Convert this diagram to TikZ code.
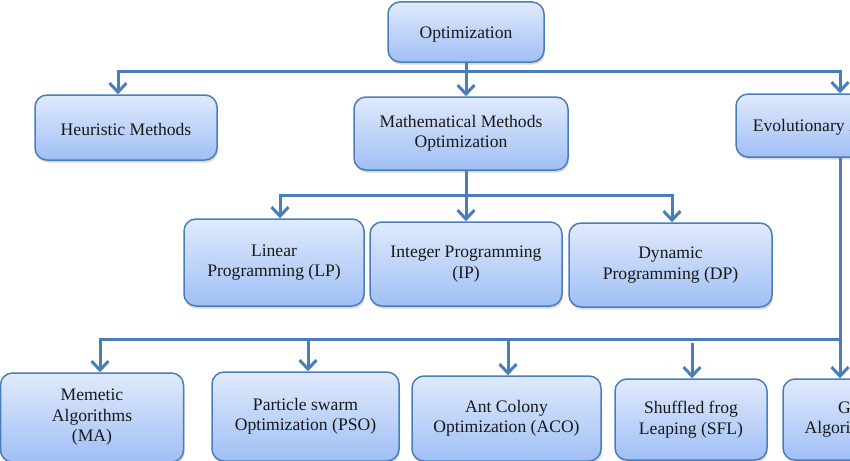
\documentclass[tikz,border=0pt]{standalone}
\usepackage{fontspec}
\setmainfont{Liberation Serif}
\usetikzlibrary{arrows.meta,shadows}
\definecolor{optcolor0000}{RGB}{74,126,187}
\definecolor{optcolor0001}{RGB}{224,234,252}
\definecolor{optcolor0002}{RGB}{160,191,245}
\definecolor{optcolor0003}{RGB}{25,25,25}

\begin{document}
\begin{tikzpicture}[yscale=-1
,bstyle/.style={draw=optcolor0000,line width=1.5pt,rounded corners=12pt,top color=optcolor0001,bottom color=optcolor0002,drop shadow={shadow xshift=1pt,shadow yshift=-2.5pt,opacity=0.3},align=center,inner sep=0pt,text=optcolor0003,font=\fontsize{17.6pt}{20.5pt}\selectfont,execute at begin node={\rule{0pt}{16.5pt}}}
,lstyle/.style={color=optcolor0000,line width=3pt}
,astyle/.style={lstyle,-{Straight Barb[length=9pt,width=17pt]}}
]
\useasboundingbox (0pt,0pt) rectangle (850pt,460pt);
\clip (0pt,0pt) rectangle (850pt,460pt);
\node[bstyle,minimum width=156pt,minimum height=60pt] (opt) at (466pt,32pt) {Optimization};
\node[bstyle,minimum width=182pt,minimum height=65pt] (heur) at (126pt,127.5pt) {Heuristic Methods};
\node[bstyle,minimum width=214pt,minimum height=73pt] (math) at (461pt,133.5pt) {Mathematical Methods\\Optimization};
\node[bstyle,minimum width=210pt,minimum height=63pt] (evo) at (841pt,125.5pt) {Evolutionary Algorithms};
\node[bstyle,minimum width=180pt,minimum height=87pt] (lp) at (274pt,262.5pt) {Linear\\Programming (LP)};
\node[bstyle,minimum width=192pt,minimum height=84pt] (ip) at (466pt,264pt) {Integer Programming\\(IP)};
\node[bstyle,minimum width=203pt,minimum height=84pt] (dp) at (670.5pt,265pt) {Dynamic\\Programming (DP)};
\node[bstyle,minimum width=183pt,minimum height=89pt] (ma) at (92pt,417.5pt) {Memetic\\Algorithms\\(MA)};
\node[bstyle,minimum width=187pt,minimum height=89pt] (pso) at (305.5pt,416.5pt) {Particle swarm\\Optimization (PSO)};
\node[bstyle,minimum width=189pt,minimum height=85pt] (aco) at (506.5pt,418.5pt) {Ant Colony\\Optimization (ACO)};
\node[bstyle,minimum width=152pt,minimum height=81pt] (sfl) at (691pt,419.5pt) {Shuffled frog\\Leaping (SFL)};
\node[bstyle,minimum width=165pt,minimum height=81pt] (gen) at (865.5pt,419.5pt) {Genetic\\Algorithms (GA)};
% first level
\coordinate (b1) at (466pt,71pt);
\draw[lstyle] (opt.south) -- (b1);
\draw[astyle] (b1) -| ([xshift=-8pt]heur.north);
\draw[astyle] (b1) -- ([xshift=5pt]math.north);
\draw[astyle] (b1) -| ([xshift=-1pt]evo.north);
% mathematical methods
\coordinate (b2) at (466pt,195pt);
\draw[lstyle] ([xshift=5pt]math.south) -- (b2);
\draw[astyle] (b2) -| ([xshift=6pt]lp.north);
\draw[astyle] (b2) -- (ip.north);
\draw[astyle] (b2) -| ([xshift=1.5pt]dp.north);
% evolutionary algorithms
\coordinate (b3) at (840pt,339pt);
\draw[lstyle] ([xshift=-1pt]evo.south) -- (b3);
\draw[astyle] (b3) -- (b3 |- gen.north);
\draw[astyle] (b3) -| ([xshift=8pt]ma.north);
\draw[astyle] (b3) -| ([xshift=2.5pt]pso.north);
\draw[astyle] (b3) -| ([xshift=1.5pt]aco.north);
\coordinate (s3) at (692pt,343pt);
\draw[astyle] (s3) -- (s3 |- sfl.north);
\end{tikzpicture}
\end{document}
